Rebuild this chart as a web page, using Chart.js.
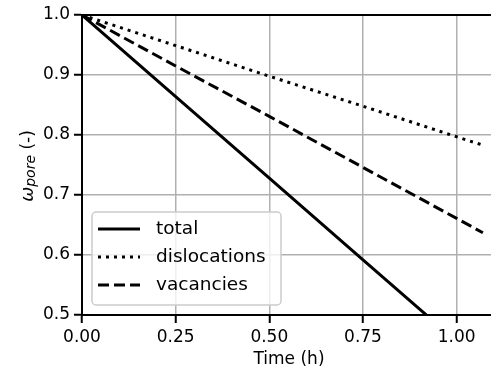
<!DOCTYPE html>
<html>
<head>
<meta charset="utf-8">
<script src="https://cdn.jsdelivr.net/npm/chart.js@4/dist/chart.umd.min.js"></script>
<style>
  html, body { margin: 0; padding: 0; background: #fff; overflow: hidden; }
  #wrap { width: 491px; height: 371px; overflow: hidden; }
</style>
</head>
<body>
<div id="wrap"><canvas id="poreChart" width="496" height="371"></canvas></div>
<script>
// values
const timeH = [0, 0.25, 0.5, 0.75, 1.0, 1.07];
const totalPore = [1.0, 0.864, 0.728, 0.592, 0.456, 0.417];
const dislocationPore = [1.0, 0.949, 0.898, 0.848, 0.797, 0.783];
const vacancyPore = [1.0, 0.915, 0.831, 0.746, 0.661, 0.637];

const seriesNames = ['total', 'dislocations', 'vacancies'];
const seriesDash = [[], [3, 5], [11, 5]];

const FONT = "'DejaVu Sans', sans-serif";

function toPoints(ys) {
    return timeH.map((t, i) => ({ x: t, y: ys[i] }));
}

// matplotlib-like extras: top spine, rotated y label with subscript, legend box
const extrasPlugin = {
    id: 'extras',
    afterDraw(chart) {
        const ctx = chart.ctx;
        const area = chart.chartArea;

        // top spine
        ctx.save();
        ctx.strokeStyle = '#000';
        ctx.lineWidth = 2;
        ctx.beginPath();
        ctx.moveTo(area.left - 1, area.top);
        ctx.lineTo(area.right, area.top);
        ctx.stroke();
        ctx.restore();

        // y label: omega_pore (-)
        ctx.save();
        ctx.translate(33, (area.top + area.bottom) / 2 + 1);
        ctx.rotate(-Math.PI / 2);
        ctx.fillStyle = '#000';
        ctx.textBaseline = 'alphabetic';
        const mainFont = 'italic 18px ' + FONT;
        const subFont = 'italic 14px ' + FONT;
        const restFont = '17px ' + FONT;
        ctx.font = mainFont;
        const w1 = ctx.measureText('ω').width;
        ctx.font = subFont;
        const w2 = ctx.measureText('pore').width;
        ctx.font = restFont;
        const w3 = ctx.measureText(' (-)').width;
        let x = -(w1 + w2 + w3) / 2;
        ctx.font = mainFont;
        ctx.fillText('ω', x, 0);
        x += w1;
        ctx.font = subFont;
        ctx.fillText('pore', x, 1.5);
        x += w2;
        ctx.font = restFont;
        ctx.fillText(' (-)', x, 0);
        ctx.restore();

        // legend
        const box = { x: 92, y: 212, w: 189, h: 93 };
        ctx.save();
        ctx.beginPath();
        ctx.roundRect(box.x, box.y, box.w, box.h, 4);
        ctx.fillStyle = 'rgba(255,255,255,0.8)';
        ctx.fill();
        ctx.strokeStyle = '#cccccc';
        ctx.lineWidth = 1.5;
        ctx.stroke();
        ctx.font = '18.5px ' + FONT;
        ctx.textBaseline = 'middle';
        seriesNames.forEach((name, i) => {
            const yy = 229 + i * 28;
            ctx.strokeStyle = '#000';
            ctx.lineWidth = 3;
            ctx.setLineDash(seriesDash[i]);
            ctx.beginPath();
            ctx.moveTo(98, yy);
            ctx.lineTo(140, yy);
            ctx.stroke();
            ctx.setLineDash([]);
            ctx.fillStyle = '#000';
            ctx.fillText(name, 156, yy);
        });
        ctx.restore();
    }
};

new Chart(document.getElementById('poreChart'), {
    type: 'line',
    data: {
        datasets: [
            { label: seriesNames[0], data: toPoints(totalPore), borderDash: seriesDash[0] },
            { label: seriesNames[1], data: toPoints(dislocationPore), borderDash: seriesDash[1] },
            { label: seriesNames[2], data: toPoints(vacancyPore), borderDash: seriesDash[2] }
        ].map(ds => Object.assign(ds, {
            borderColor: '#000',
            borderWidth: 3,
            pointRadius: 0,
            tension: 0,
            fill: false
        }))
    },
    options: {
        responsive: false,
        animation: false,
        devicePixelRatio: 1,
        layout: { padding: { top: 15, right: 0, bottom: 0, left: 0 } },
        plugins: {
            legend: { display: false },
            tooltip: { enabled: false }
        },
        scales: {
            x: {
                type: 'linear',
                min: 0,
                max: 1.105,
                afterFit: s => { s.height = 56; },
                border: { display: true, color: '#000', width: 2 },
                grid: { color: '#b0b0b0', lineWidth: 1.5, tickLength: 8, tickColor: '#000', tickWidth: 2 },
                ticks: {
                    stepSize: 0.25,
                    includeBounds: false,
                    color: '#000',
                    padding: 4,
                    maxRotation: 0,
                    font: { family: FONT, size: 17 },
                    callback: v => Number(v).toFixed(2)
                },
                title: {
                    display: true,
                    text: 'Time (h)',
                    color: '#000',
                    padding: { top: 0, bottom: 1 },
                    font: { family: FONT, size: 17 }
                }
            },
            y: {
                min: 0.5,
                max: 1.0,
                afterFit: s => { s.width = 82; },
                border: { display: true, color: '#000', width: 2 },
                grid: { color: '#b0b0b0', lineWidth: 1.5, tickLength: 8, tickColor: '#000', tickWidth: 2 },
                ticks: {
                    stepSize: 0.1,
                    color: '#000',
                    padding: 4,
                    font: { family: FONT, size: 17 },
                    callback: v => Number(v).toFixed(1)
                }
            }
        }
    },
    plugins: [extrasPlugin]
});
</script>
</body>
</html>
